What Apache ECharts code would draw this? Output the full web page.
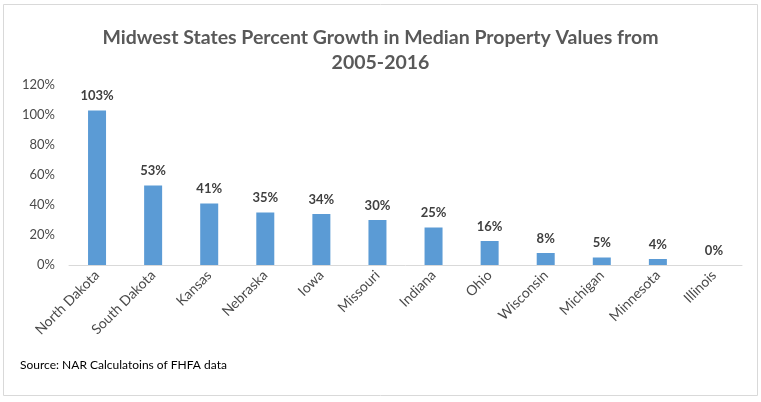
<!DOCTYPE html>
<html>
<head>
<meta charset="utf-8">
<script src="https://cdn.jsdelivr.net/npm/echarts@6/dist/echarts.min.js"></script>
<style>html,body{margin:0;padding:0;background:#fff}#c{width:761px;height:402px}</style>
</head>
<body>
<div id="c"></div>
<script>
const categories = ["North Dakota","South Dakota","Kansas","Nebraska","Iowa","Missouri","Indiana","Ohio","Wisconsin","Michigan","Minnesota","Illinois"];
const growth = [103,53,41,35,34,30,25,16,8,5,4,0];
const yTicks = {min:0, max:120, interval:20};
const titleText = "Midwest States Percent Growth in Median Property Values from\n2005-2016";
const sourceText = "Source: NAR Calculatoins of FHFA data";

const chart = echarts.init(document.getElementById('c'), null, {renderer:'canvas'});
const FONT = 'Lato, "Open Sans", sans-serif';
chart.setOption({
  animation:false,
  textStyle:{fontFamily:FONT},
  title:{text:titleText,left:'center',top:20,
    textStyle:{fontFamily:FONT,fontSize:19.5,fontWeight:'bold',color:'#595959',lineHeight:25}},
  graphic:[
    {type:'rect',shape:{x:3.5,y:4.5,width:754,height:391},style:{fill:'none',stroke:'#d9d9d9',lineWidth:1},silent:true},
    {type:'text',left:20,top:359,style:{text:sourceText,fontFamily:FONT,fontSize:12,fill:'#000'}}
  ],
  grid:{left:69,right:19,top:85,bottom:137,containLabel:false},
  xAxis:{type:'category',data:categories,
    axisLine:{lineStyle:{color:'#d9d9d9'}},axisTick:{show:false},
    axisLabel:{rotate:45,interval:0,color:'#4a4a4a',fontSize:14,fontFamily:FONT,margin:8}},
  yAxis:{type:'value',min:yTicks.min,max:yTicks.max,interval:yTicks.interval,
    axisLine:{show:false},axisTick:{show:false},splitLine:{show:false},
    axisLabel:{formatter:'{value}%',color:'#4a4a4a',fontSize:13,fontFamily:FONT,margin:14}},
  series:[{type:'bar',data:growth,barWidth:18,
    itemStyle:{color:'#5b9bd5'},
    label:{show:true,position:'top',distance:8,formatter:'{c}%',color:'#404040',fontSize:13,fontWeight:'bold',fontFamily:FONT}}]
});
</script>
</body>
</html>
